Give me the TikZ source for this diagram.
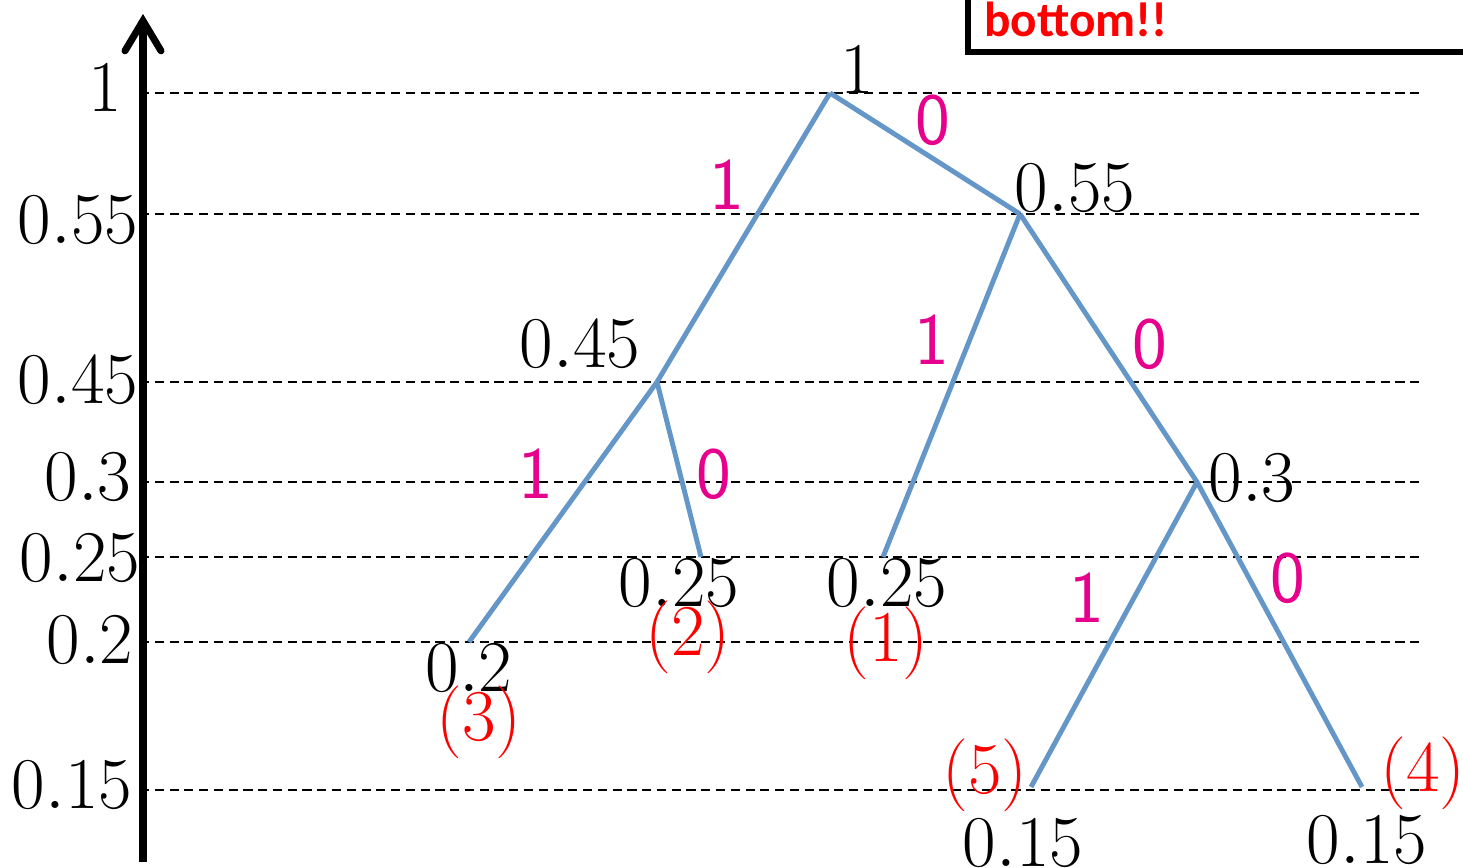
\documentclass[tikz,border=0pt]{standalone}
\usepackage{amsmath}
\usepackage{fontspec}
\newfontfamily\calib{Carlito}
\usetikzlibrary{arrows.meta, positioning, calc}

\definecolor{edgeblue}{RGB}{100,150,200}
\definecolor{bitpink}{RGB}{230,0,140}

\begin{document}
\begin{tikzpicture}[
    x=0.01cm, y=-0.01cm,
    num/.style={font=\fontsize{21}{24}\selectfont, inner sep=0pt},
    rank/.style={font=\fontsize{20}{24}\selectfont, text=red, inner sep=0pt},
    bit/.style={font=\sffamily\fontsize{21}{24}\selectfont, text=bitpink, inner sep=0pt},
    edge/.style={draw=edgeblue, line width=1.4pt},
    guide/.style={draw, dash pattern=on 2.6pt off 1.6pt, line width=0.7pt},
    axis/.style={draw, line width=2pt, -{Straight Barb[length=3mm, width=3.6mm, line width=2pt, line cap=round]}}
]
    \useasboundingbox (0,0) rectangle (1463,868);

    % Guide lines for each level
    \foreach \name/\y in {a/93, b/214, c/382, d/482, e/557, f/642, g/790} {
        \coordinate (\name s) at (140,\y);
        \coordinate (\name e) at (1420,\y);
        \path [guide] (\name s) -- (\name e);
    }

    % Axis
    \coordinate (axbot) at (143,862);
    \coordinate (axtop) at (143,14);
    \path [axis] (axbot) -- (axtop);

    % Axis labels
    \node [num] (ya) at (105,88) {$1$};
    \node [num] (yb) at (78,220) {$0.55$};
    \node [num] (yc) at (78,380) {$0.45$};
    \node [num] (yd) at (88,477) {$0.3$};
    \node [num] (ye) at (80,558) {$0.25$};
    \node [num] (yf) at (90,640) {$0.2$};
    \node [num] (yg) at (72,785) {$0.15$};

    % Tree vertices
    \coordinate (root) at (830,93);
    \coordinate (n55) at (1020,214);
    \coordinate (n45) at (657,382);
    \coordinate (n30) at (1197,482);
    \coordinate (l20) at (469,642);
    \coordinate (l25a) at (701,557);
    \coordinate (l25b) at (883,557);
    \coordinate (l15a) at (1031,787);
    \coordinate (l15b) at (1362,787);

    % Tree edges
    \path [edge] (root) -- (n55);
    \path [edge] (root) -- (n45);
    \path [edge] (n55) -- (l25b);
    \path [edge] (n55) -- (n30);
    \path [edge] (n45) -- (l20);
    \path [edge] (n45) -- (l25a);
    \path [edge] (n30) -- (l15a);
    \path [edge] (n30) -- (l15b);

    % Probabilities
    \node [num] (proot) at (857,70) {$1$};
    \node [num] (p55) at (1075,188) {$0.55$};
    \node [num] (p45) at (580,344) {$0.45$};
    \node [num] (p30) at (1252,478) {$0.3$};
    \node [num] (p25a) at (679,583) {$0.25$};
    \node [num] (p25b) at (887,583) {$0.25$};
    \node [num] (p20) at (469,668) {$0.2$};
    \node [num] (p15a) at (1023,843) {$0.15$};
    \node [num] (p15b) at (1367,840) {$0.15$};

    % Code order
    \node [rank] (r1) at (886,643) {$(1)$};
    \node [rank] (r2) at (688,637) {$(2)$};
    \node [rank] (r3) at (479,722) {$(3)$};
    \node [rank] (r4) at (1423,773) {$(4)$};
    \node [rank] (r5) at (985,775) {$(5)$};

    % Bits
    \node [bit] (b1) at (933,120) {0};
    \node [bit] (b2) at (727,185) {1};
    \node [bit] (b3) at (932,340) {1};
    \node [bit] (b4) at (1150,344) {0};
    \node [bit] (b5) at (536,474) {1};
    \node [bit] (b6) at (714,474) {0};
    \node [bit] (b7) at (1087,598) {1};
    \node [bit] (b8) at (1288,578) {0};

    % Note box
    \coordinate (boxtl) at (968,-10);
    \coordinate (boxbr) at (1480,52);
    \draw [line width=1.5pt] (boxtl) |- (boxbr);
    \node [font=\calib\bfseries\fontsize{14}{16}\selectfont, text=red, inner sep=0pt] (note) at (1076,19) {bottom!!};
\end{tikzpicture}
\end{document}
